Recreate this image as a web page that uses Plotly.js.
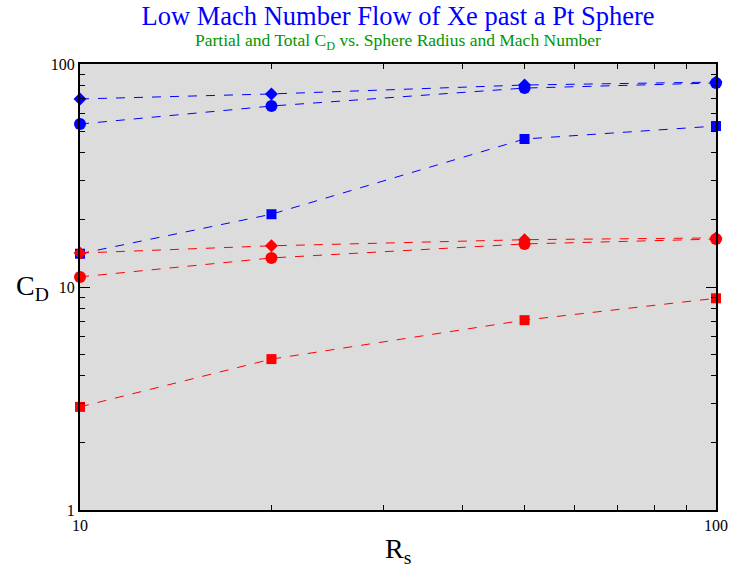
<!DOCTYPE html>
<html><head><meta charset="utf-8">
<script src="https://cdn.plot.ly/plotly-3.0.1.min.js"></script>
<style>html,body{margin:0;padding:0;background:#fff}</style>
</head><body>
<div id="chart" style="width:729px;height:568px"></div>
<script>
const radius = [10, 20, 50, 100];
const blueDiamond = [69.7, 73.4, 80.5, 83.0];
const blueCircle = [53.8, 64.8, 78.0, 82.2];
const blueSquare = [14.1, 21.2, 46.1, 52.7];
const redDiamond = [14.2, 15.3, 16.3, 16.6];
const redCircle = [11.1, 13.5, 15.6, 16.4];
const redSquare = [2.9, 4.75, 7.1, 8.9];

function tr(y, color, symbol, size) {
  return {x: radius, y: y, type: 'scatter', mode: 'lines+markers', cliponaxis: false,
    line: {color: color, width: 1, dash: 'dash'},
    marker: {color: color, symbol: symbol, size: size}, showlegend: false};
}
const blue = 'rgb(0,0,255)', red = 'rgb(255,0,0)';
const data = [
  tr(blueDiamond, blue, 'diamond', 10),
  tr(blueCircle, blue, 'circle', 12),
  tr(blueSquare, blue, 'square', 10),
  tr(redDiamond, red, 'diamond', 10),
  tr(redCircle, red, 'circle', 12),
  tr(redSquare, red, 'square', 10)
];
const ff = 'Liberation Serif, Times New Roman, serif';
const font = {family: ff, color: '#000'};
const axisCommon = {type: 'log', showgrid: false, zeroline: false, showline: true, linecolor: '#000', linewidth: 2,
  mirror: 'allticks', ticks: 'inside', ticklen: 10, tickwidth: 1, tickcolor: '#000', dtick: 1,
  tickfont: {family: ff, size: 16, color: '#000'},
  minor: {dtick: 'D1', ticks: 'inside', ticklen: 5, tickwidth: 1, tickcolor: '#000', showgrid: false}};
const layout = {
  width: 729, height: 568,
  margin: {l: 80, r: 13, t: 64, b: 58},
  paper_bgcolor: '#fff', plot_bgcolor: '#dcdcdc',
  font: font,
  xaxis: Object.assign({}, axisCommon, {range: [1, 2], tickvals: [10, 100], ticktext: ['10', '100']}),
  yaxis: Object.assign({}, axisCommon, {range: [0, 2], tickvals: [1, 10, 100], ticktext: ['1', '10', '100']}),
  title: {text: 'Low Mach Number Flow of Xe past a Pt Sphere', font: {family: ff, size: 26.5, color: 'rgb(0,0,255)'},
    x: 0.546, xanchor: 'center', y: 0.972, yanchor: 'middle'},
  annotations: [
    {text: 'Partial and Total C<sub>D</sub> vs. Sphere Radius and Mach Number', xref: 'paper', yref: 'paper',
      x: 0.5, y: 1, yshift: 23, xanchor: 'center', yanchor: 'middle', showarrow: false,
      font: {family: ff, size: 17.5, color: 'rgb(0,150,0)'}},
    {text: 'C<sub>D</sub>', xref: 'paper', yref: 'paper', x: 0, y: 0.5, xshift: -48, xanchor: 'center', yanchor: 'middle',
      showarrow: false, textangle: 0, font: {family: ff, size: 28, color: '#000'}},
    {text: 'R<sub>s</sub>', xref: 'paper', yref: 'paper', x: 0.5, y: 0, yshift: -40, xanchor: 'center', yanchor: 'middle',
      showarrow: false, font: {family: ff, size: 28, color: '#000'}}
  ]
};
Plotly.newPlot('chart', data, layout, {displayModeBar: false, staticPlot: true});
</script>
</body></html>
